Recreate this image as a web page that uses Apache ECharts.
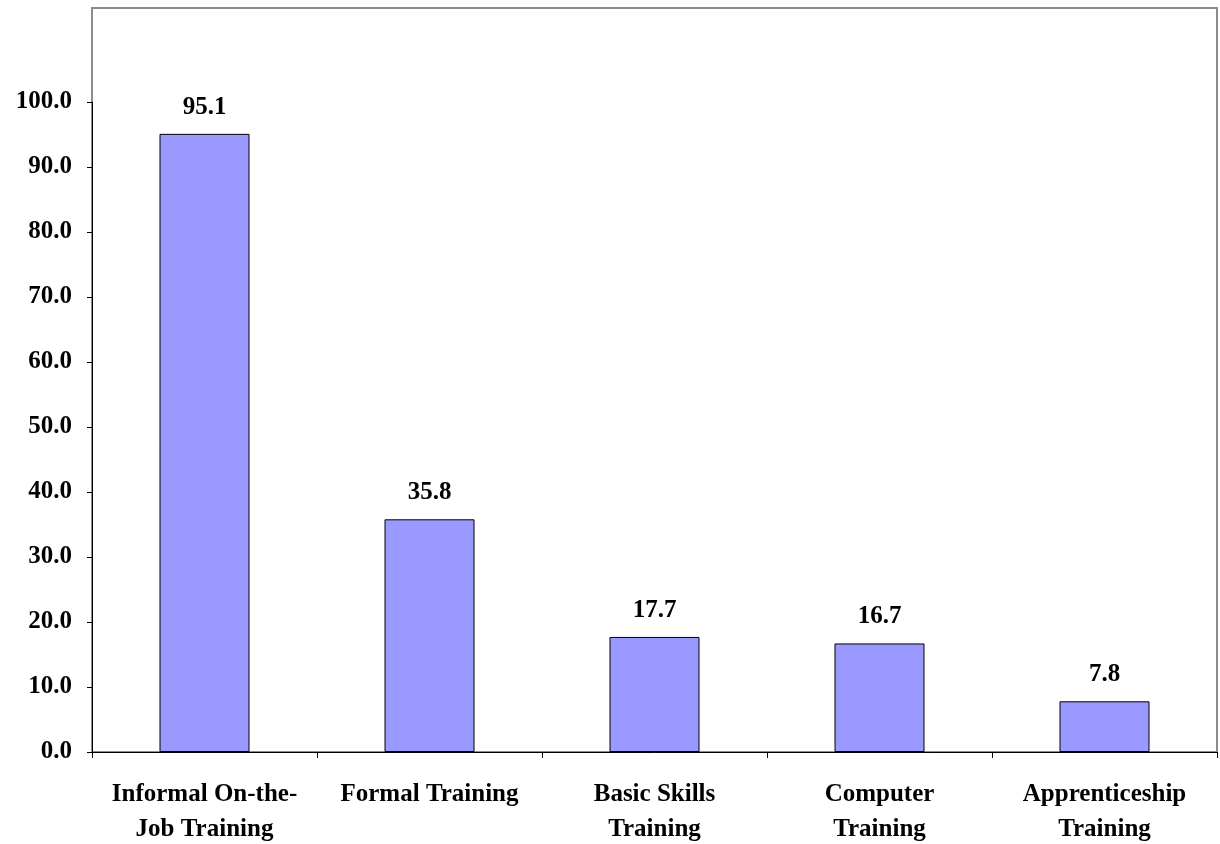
<!DOCTYPE html>
<html><head><meta charset="utf-8">
<script src="https://cdn.jsdelivr.net/npm/echarts@6/dist/echarts.min.js"></script>
<style>html,body{margin:0;padding:0;background:#fff}#c{width:1220px;height:844px}</style>
</head><body><div id="c"></div>
<script>
const categories = ['Informal On-the-\nJob Training', 'Formal Training', 'Basic Skills\nTraining', 'Computer\nTraining', 'Apprenticeship\nTraining'];
const values = [95.1, 35.8, 17.7, 16.7, 7.8];
const yMin = 0, yMax = 100, yStep = 10;

const font = '"Liberation Serif", "DejaVu Serif", serif';
const chart = echarts.init(document.getElementById('c'));
chart.setOption({
  animation: false,
  grid: [
    {left: 92, right: 3, top: 8, bottom: 92, show: true, borderColor: '#8c8c8c', borderWidth: 2, backgroundColor: 'transparent', outerBoundsMode: 'none', containLabel: false},
    {left: 92, right: 3, top: 102, bottom: 92, outerBoundsMode: 'none', containLabel: false}
  ],
  xAxis: [
    {gridIndex: 0, type: 'category', show: false, data: categories},
    {gridIndex: 1, type: 'category', data: categories,
     axisLine: {lineStyle: {color: '#000', width: 1}},
     axisTick: {show: true, length: 6, lineStyle: {color: '#000'}},
     axisLabel: {color: '#000', fontFamily: font, fontWeight: 'bold', fontSize: 25, lineHeight: 35, margin: 25, interval: 0}
    }
  ],
  yAxis: [
    {gridIndex: 0, type: 'value', show: false, min: 0, max: 1},
    {gridIndex: 1, type: 'value', min: yMin, max: yMax, interval: yStep,
     axisLine: {show: true, lineStyle: {color: '#000', width: 1}},
     axisTick: {show: true, length: 5, inside: false, lineStyle: {color: '#000'}},
     splitLine: {show: false},
     axisLabel: {color: '#000', fontFamily: font, fontWeight: 'bold', fontSize: 25, margin: 20,
       formatter: v => v.toFixed(1)}
    }
  ],
  series: [{
    type: 'bar', xAxisIndex: 1, yAxisIndex: 1, data: values, barWidth: '40%',
    itemStyle: {color: '#9999FF', borderColor: '#000', borderWidth: 1},
    label: {show: true, position: 'top', distance: 14, color: '#000', fontFamily: font, fontWeight: 'bold', fontSize: 25,
      formatter: p => p.value.toFixed(1)}
  }]
});
</script></body></html>
